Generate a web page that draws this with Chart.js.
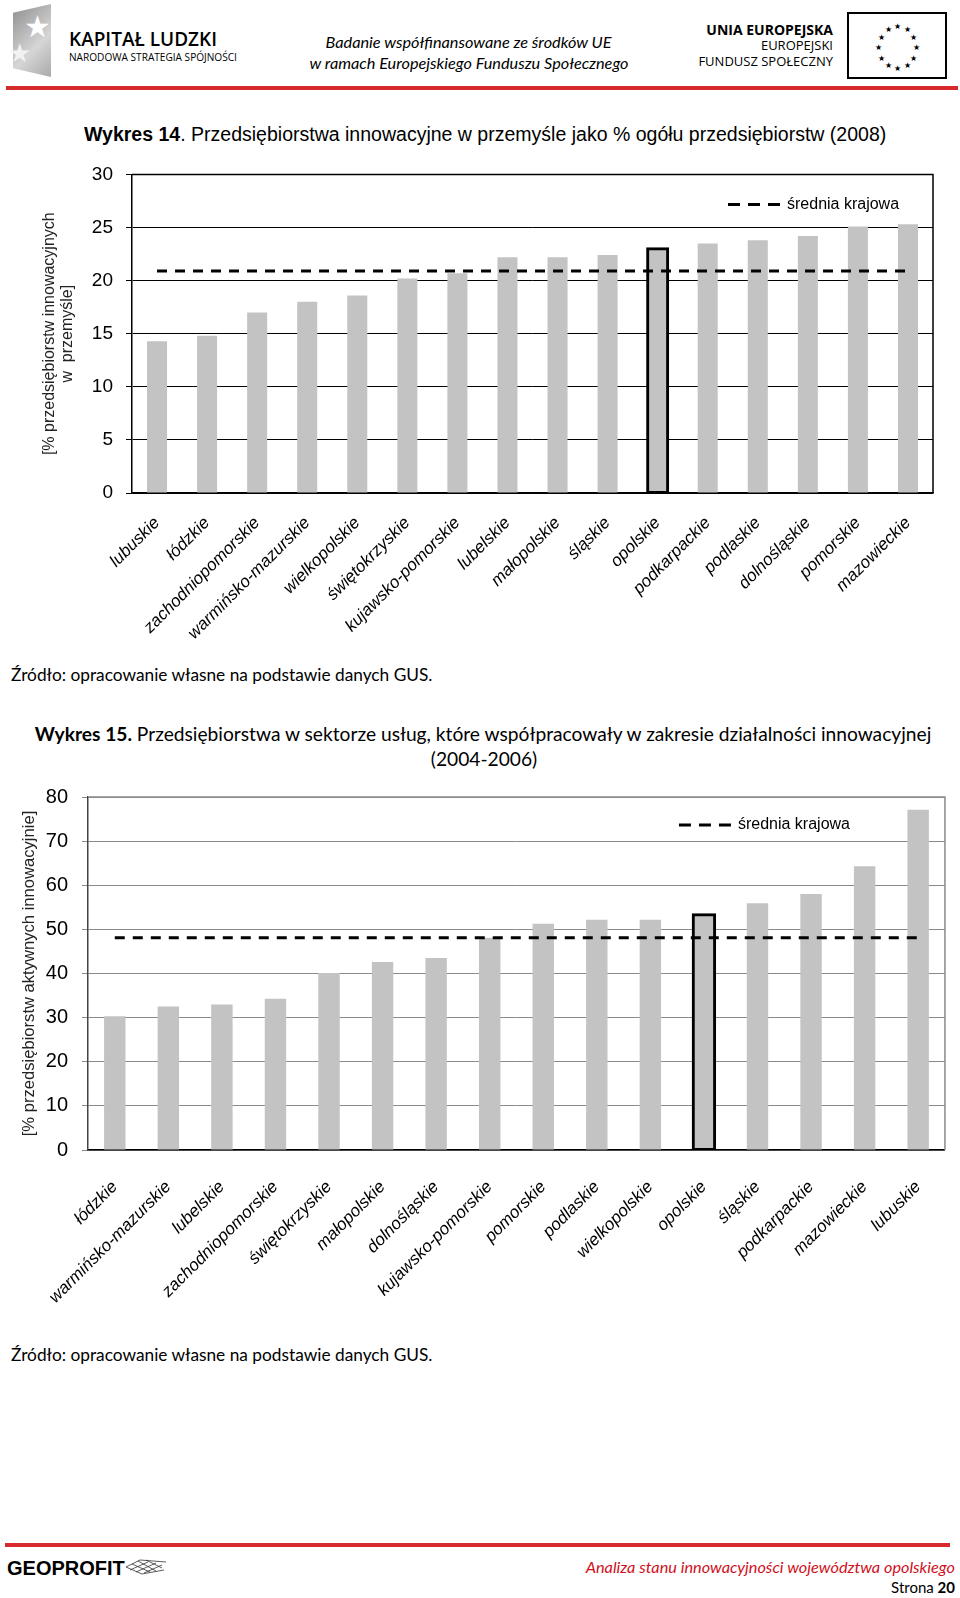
<!DOCTYPE html>
<html lang="pl">
<head>
<meta charset="utf-8">
<title>Wykres 14 i 15</title>
<script src="https://cdn.jsdelivr.net/npm/chart.js@4.4.1/dist/chart.umd.min.js"></script>
<style>
  body { margin: 0; width: 960px; height: 1598px; position: relative; overflow: hidden; background: #fff; color: #000; font-family: 'Liberation Sans', Arial, sans-serif; }
  .abs { position: absolute; white-space: nowrap; line-height: 1; }
  .calibri { font-family: Lato, 'Open Sans', sans-serif; }
  .czerwona { position: absolute; height: 4px; background: #d8292c; }
  .wykres { position: absolute; left: 0; }
</style>
</head>
<body>

<!-- naglowek -->
<div class="abs" style="left:13px;top:4px;width:38px;height:73px;background:linear-gradient(135deg,#8d8d8d,#d6d6d6 60%,#a9a9a9);clip-path:polygon(0 12%,100% 0,100% 100%,0 88%)"></div>
<div class="abs" style="left:24px;top:12px;font-size:30px;color:#fff">★</div>
<div class="abs" style="left:8px;top:40px;font-size:26px;color:#f2f2f2">★</div>
<div class="abs" style="left:69px;top:30px;font-family:'Open Sans';font-weight:600;font-size:19px">KAPITAŁ LUDZKI</div>
<div class="abs" style="left:69px;top:52px;font-family:'Open Sans';font-size:10.1px">NARODOWA STRATEGIA SPÓJNOŚCI</div>

<div class="abs calibri" style="left:0;width:937px;text-align:center;top:34px;font-size:16.3px;font-style:italic">Badanie współfinansowane ze środków UE</div>
<div class="abs calibri" style="left:0;width:938px;text-align:center;top:55px;font-size:16.3px;font-style:italic">w ramach Europejskiego Funduszu Społecznego</div>

<div class="abs" style="right:127px;top:23px;font-family:'Open Sans';font-weight:700;font-size:14px">UNIA EUROPEJSKA</div>
<div class="abs" style="right:127px;top:39px;font-family:'Open Sans';font-size:13px">EUROPEJSKI</div>
<div class="abs" style="right:127px;top:55px;font-family:'Open Sans';font-size:13px">FUNDUSZ SPOŁECZNY</div>
<div class="abs" id="flaga" style="left:847px;top:12px;width:96px;height:63px;border:2px solid #000"></div>

<div class="czerwona" style="left:6px;top:86px;width:952px"></div>

<!-- wykres 14 -->
<div class="abs" id="tytul14" style="left:84px;top:124px;font-size:20px;transform-origin:0 50%"><b>Wykres 14</b>. Przedsiębiorstwa innowacyjne w przemyśle jako % ogółu przedsiębiorstw (2008)</div>
<div class="wykres" style="top:150px"><canvas id="wykres14" width="960" height="490"></canvas></div>
<div class="abs calibri" style="left:11px;top:666px;font-size:17.3px">Źródło: opracowanie własne na podstawie danych GUS.</div>

<!-- wykres 15 -->
<div class="abs calibri" style="left:0;width:966px;text-align:center;top:724px;font-size:19.2px"><b>Wykres 15.</b> Przedsiębiorstwa w sektorze usług, które współpracowały w zakresie działalności innowacyjnej</div>
<div class="abs calibri" style="left:0;width:968px;text-align:center;top:749px;font-size:19.2px">(2004-2006)</div>
<div class="wykres" style="top:770px"><canvas id="wykres15" width="960" height="540"></canvas></div>
<div class="abs calibri" style="left:11px;top:1346px;font-size:17.3px">Źródło: opracowanie własne na podstawie danych GUS.</div>

<!-- stopka -->
<div class="czerwona" style="left:5px;top:1543px;width:945px"></div>
<div class="abs" style="left:7px;top:1558px;font-weight:700;font-size:20px">GEOPROFIT</div>
<svg class="abs" style="left:124px;top:1558px" width="44" height="18" viewBox="0 0 44 18">
  <path d="M2 9 L16 2 L42 4 M2 9 L18 16 L40 12 M8 6 L26 14 M14 3 L32 13 M22 2 L38 10 M6 12 L24 4 M12 14 L32 5 M20 15 L38 7" stroke="#333" stroke-width="0.8" fill="none"/>
</svg>
<div class="abs calibri" style="right:5px;top:1559px;font-size:16.3px;font-style:italic;color:#d0101c">Analiza stanu innowacyjności województwa opolskiego</div>
<div class="abs calibri" style="right:5px;top:1580px;font-size:15px">Strona <b>20</b></div>

<script>
// gwiazdki na fladze UE
const flagaSelector = document.querySelector('#flaga')
for (let i = 0; i < 12; i++) {
    const kat = i * Math.PI / 6
    const s = document.createElement('span')
    s.textContent = '★'
    s.style.cssText = 'position:absolute;font-size:8px;line-height:1;left:' + (45 + 19 * Math.sin(kat)) + 'px;top:' + (30 - 21 * Math.cos(kat)) + 'px'
    flagaSelector.appendChild(s)
}

// tytul wykresu 14 jest w waskim kroju - sciskamy do szerokosci oryginalu
const tytul14Selector = document.querySelector('#tytul14')
tytul14Selector.style.transform = 'scaleX(' + (802 / tytul14Selector.offsetWidth) + ')'

// ----- dane -----
const kategorie14 = ['lubuskie', 'łódzkie', 'zachodniopomorskie', 'warmińsko-mazurskie', 'wielkopolskie', 'świętokrzyskie', 'kujawsko-pomorskie', 'lubelskie', 'małopolskie', 'śląskie', 'opolskie', 'podkarpackie', 'podlaskie', 'dolnośląskie', 'pomorskie', 'mazowieckie']
const wartosci14 = [14.3, 14.8, 17.0, 18.0, 18.6, 20.2, 20.7, 22.2, 22.2, 22.4, 23.0, 23.5, 23.8, 24.2, 25.1, 25.3]
const srednia14 = [20.9, 20.9, 20.9, 20.9, 20.9, 20.9, 20.9, 20.9, 20.9, 20.9, 20.9, 20.9, 20.9, 20.9, 20.9, 20.9]
const tickiY14 = [0, 5, 10, 15, 20, 25, 30]

const kategorie15 = ['łódzkie', 'warmińsko-mazurskie', 'lubelskie', 'zachodniopomorskie', 'świętokrzyskie', 'małopolskie', 'dolnośląskie', 'kujawsko-pomorskie', 'pomorskie', 'podlaskie', 'wielkopolskie', 'opolskie', 'śląskie', 'podkarpackie', 'mazowieckie', 'lubuskie']
const wartosci15 = [30.3, 32.5, 33.0, 34.3, 40.1, 42.6, 43.5, 48.1, 51.3, 52.2, 52.2, 53.3, 55.9, 58.0, 64.3, 77.1]
const srednia15 = [48.1, 48.1, 48.1, 48.1, 48.1, 48.1, 48.1, 48.1, 48.1, 48.1, 48.1, 48.1, 48.1, 48.1, 48.1, 48.1]
const tickiY15 = [0, 10, 20, 30, 40, 50, 60, 70, 80]

const wyrozniony = 'opolskie'
const etykietaSredniej = 'średnia krajowa'

// ramka obszaru wykresu + legenda w srodku
const ramkaLegenda = {
    id: 'ramkaLegenda',
    afterDraw(chart, args, opts) {
        const { ctx, chartArea } = chart
        ctx.save()
        ctx.strokeStyle = opts.kolorRamki
        ctx.lineWidth = opts.gruboscRamki
        ctx.beginPath()
        ctx.moveTo(chartArea.left, chartArea.top)
        ctx.lineTo(chartArea.right, chartArea.top)
        ctx.lineTo(chartArea.right, chartArea.bottom)
        ctx.stroke()
        // legenda
        const x = chartArea.right - opts.odPrawej
        const y = chartArea.top + opts.odGory
        ctx.strokeStyle = '#000'
        ctx.lineWidth = 3
        ctx.setLineDash([12, 8])
        ctx.beginPath()
        ctx.moveTo(x, y)
        ctx.lineTo(x + 52, y)
        ctx.stroke()
        ctx.setLineDash([])
        ctx.fillStyle = '#000'
        ctx.font = '16px "Liberation Sans", Arial, sans-serif'
        ctx.textBaseline = 'middle'
        ctx.fillText(etykietaSredniej, x + 59, y)
        ctx.restore()
    }
}

const zrobWykres = (selektor, kategorie, wartosci, srednia, tickiY, u) => {
    const data = {
        labels: kategorie,
        datasets: [
            {
                type: 'line',
                label: etykietaSredniej,
                data: srednia,
                borderColor: '#000',
                borderWidth: 3,
                borderDash: [10, 8],
                pointRadius: 0,
                fill: false,
                order: 0,
            },
            {
                type: 'bar',
                label: 'wartość',
                data: wartosci,
                backgroundColor: '#c3c3c3',
                borderColor: kategorie.map(k => k === wyrozniony ? '#000' : '#c3c3c3'),
                borderWidth: kategorie.map(k => k === wyrozniony ? 3 : 0),
                borderSkipped: false,
                inflateAmount: ctx => kategorie[ctx.dataIndex] === wyrozniony ? 1.5 : 0,
                barPercentage: 0.4,
                categoryPercentage: 1,
                order: 1,
            }
        ]
    }
    const config = {
        type: 'bar',
        data: data,
        options: {
            responsive: false,
            animation: false,
            devicePixelRatio: 1,
            layout: { padding: { top: u.padTop, right: u.padRight, left: 0, bottom: 0 } },
            plugins: {
                legend: { display: false },
                tooltip: { enabled: false },
                ramkaLegenda: { kolorRamki: u.kolorRamki, gruboscRamki: 1.5, odPrawej: u.legX, odGory: u.legY },
            },
            scales: {
                x: {
                    grid: { display: true, drawOnChartArea: false, drawTicks: false, color: 'transparent' },
                    border: { color: '#000', width: 1.5 },
                    ticks: {
                        autoSkip: false, minRotation: 45, maxRotation: 45, padding: u.padX,
                        color: '#000',
                        font: { family: "'Liberation Sans', Arial, sans-serif", size: 17, style: 'italic' },
                    },
                    afterFit: s => { s.height = u.wysX },
                },
                y: {
                    min: tickiY[0],
                    max: tickiY[tickiY.length - 1],
                    afterBuildTicks: s => { s.ticks = tickiY.map(v => ({ value: v })) },
                    grid: { color: u.kolorSiatki, lineWidth: 1, tickLength: 6 },
                    border: { color: u.kolorOsiY, width: 1.5 },
                    ticks: {
                        padding: u.padY, color: '#000',
                        font: { family: "'Liberation Sans', Arial, sans-serif", size: u.rozmiarY },
                    },
                    title: {
                        display: true,
                        text: u.tytulY,
                        color: '#222',
                        font: { family: "'Liberation Sans', Arial, sans-serif", size: u.rozmiarTytul, lineHeight: '18px' },
                        padding: { top: u.padTytul, bottom: 0 },
                    },
                    afterFit: s => { s.width = u.szerY },
                }
            }
        },
        plugins: [ramkaLegenda]
    }
    return new Chart(document.querySelector(selektor), config)
}

zrobWykres('#wykres14', kategorie14, wartosci14, srednia14, tickiY14, {
    padTop: 22, padRight: 27, wysX: 147, szerY: 132, padX: 20, padY: 13, rozmiarY: 19,
    kolorSiatki: '#000', kolorOsiY: '#000', kolorRamki: '#000',
    legX: 205, legY: 30, padTytul: 41, rozmiarTytul: 16,
    tytulY: ['[% przedsiębiorstw innowacyjnych', 'w  przemyśle]'],
})

zrobWykres('#wykres15', kategorie15, wartosci15, srednia15, tickiY15, {
    padTop: 27, padRight: 13, wysX: 160, szerY: 88, padX: 27, padY: 14, rozmiarY: 20,
    kolorSiatki: '#8a8a8a', kolorOsiY: '#444', kolorRamki: '#8a8a8a',
    legX: 266, legY: 28, padTytul: 20, rozmiarTytul: 16.6,
    tytulY: '[% przedsiębiorstw aktywnych innowacyjnie]',
})
</script>
</body>
</html>
